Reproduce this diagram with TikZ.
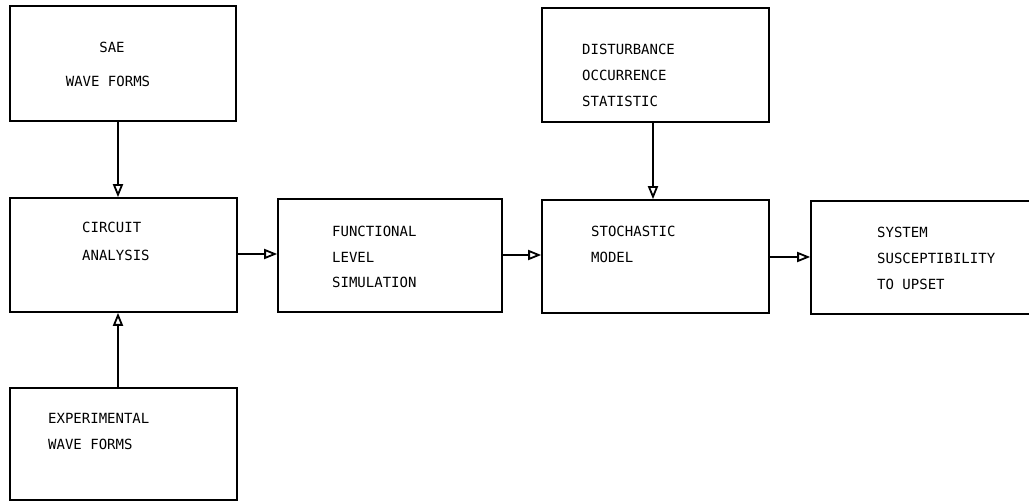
\documentclass[tikz,border=0pt]{standalone}
\usepackage{fontspec}
\setmonofont{DejaVu Sans Mono}
\usetikzlibrary{arrows.meta}
\begin{document}
\begin{tikzpicture}[x=1pt,y=-1pt,
  blk/.style={draw,line width=1.6pt,rectangle,inner sep=0pt},
  txt/.style={anchor=west,inner sep=0pt,font=\ttfamily\fontsize{14}{25}\selectfont,align=left,text height=10pt,text depth=0pt},
  conn/.style={line width=2pt,-{Triangle[open,length=13pt,width=10pt,line width=1.8pt]}}]
\useasboundingbox (0,0) rectangle (1029,502);
% boxes
\node[blk,minimum width=226pt,minimum height=115pt] (sae) at (123,63.5) {};
\node[blk,minimum width=227pt,minimum height=114pt] (ca) at (123.5,255) {};
\node[blk,minimum width=227pt,minimum height=112pt] (exp) at (123.5,444) {};
\node[blk,minimum width=224pt,minimum height=113pt] (fls) at (390,255.5) {};
\node[blk,minimum width=227pt,minimum height=114pt] (dos) at (655.5,65) {};
\node[blk,minimum width=227pt,minimum height=113pt] (sm) at (655.5,256.5) {};
\node[blk,minimum width=222pt,minimum height=113pt] (ssu) at (922,257.5) {};
% texts
\node[txt,anchor=center] (t1) at (112,48) {SAE};
\node[txt,anchor=center] (t2) at (108,82) {WAVE FORMS};
\node[txt] (t3) at (82,228) {CIRCUIT};
\node[txt] (t4) at (82,256) {ANALYSIS};
\node[txt] (t5) at (48,419) {EXPERIMENTAL};
\node[txt] (t6) at (48,445) {WAVE FORMS};
\node[txt] (t7) at (332,232) {FUNCTIONAL};
\node[txt] (t8) at (332,258) {LEVEL};
\node[txt] (t9) at (332,283) {SIMULATION};
\node[txt] (t10) at (582,50) {DISTURBANCE};
\node[txt] (t11) at (582,76) {OCCURRENCE};
\node[txt] (t12) at (582,102) {STATISTIC};
\node[txt] (t13) at (591,232) {STOCHASTIC};
\node[txt] (t14) at (591,258) {MODEL};
\node[txt] (t15) at (877,233) {SYSTEM};
\node[txt] (t16) at (877,259) {SUSCEPTIBILITY};
\node[txt] (t17) at (877,285) {TO UPSET};
% connectors
\draw[conn] (sae.south -| 118,0) -- (ca.north -| 118,0);
\draw[conn] (exp.north -| 118,0) -- (ca.south -| 118,0);
\draw[conn] (ca.east |- 0,254) -- (fls.west |- 0,254);
\draw[conn] (fls.east |- 0,255) -- (sm.west |- 0,255);
\draw[conn] (dos.south -| 653,0) -- (sm.north -| 653,0);
\draw[conn] (sm.east |- 0,257) -- (ssu.west |- 0,257);
\end{tikzpicture}
\end{document}
